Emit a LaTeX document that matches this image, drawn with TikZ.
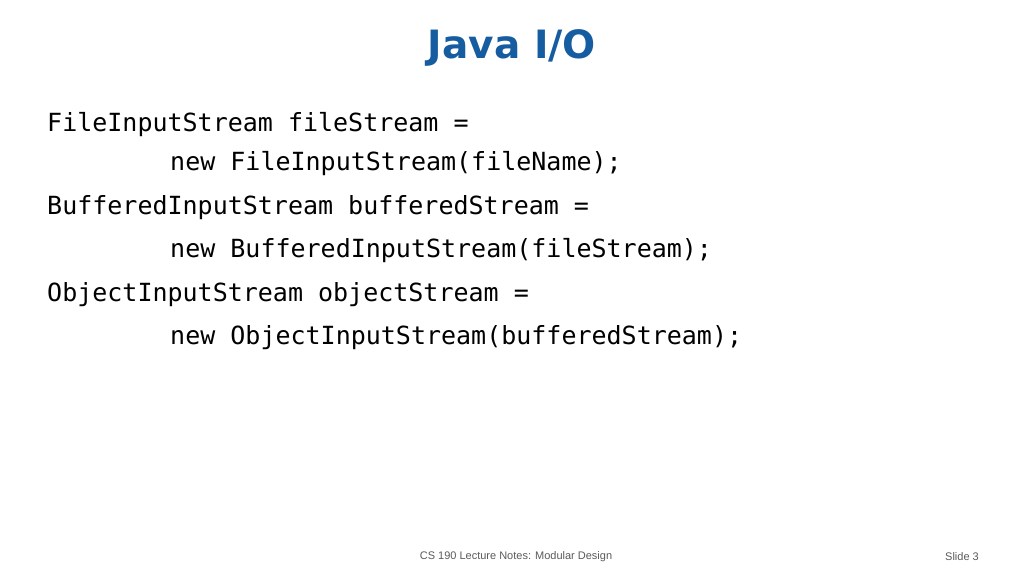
\documentclass[tikz,border=0pt]{standalone}
\usepackage{fontspec}
\setmainfont{Liberation Sans}
\newfontfamily\codefont{DejaVu Sans Mono}
\newfontfamily\titlefont{DejaVu Sans}
\usetikzlibrary{positioning}
\definecolor{titleblue}{RGB}{22,92,160}
\definecolor{footgray}{RGB}{90,90,90}

\begin{document}
\begin{tikzpicture}[x=1pt,y=-1pt,every node/.style={inner sep=0pt},
  codeline/.style={anchor=west,font=\codefont\fontsize{25}{30}\selectfont},
  foot/.style={font=\fontsize{11}{13}\selectfont,text=footgray}]
\useasboundingbox (0,0) rectangle (1024,576);

\node[font=\titlefont\bfseries\fontsize{39}{46}\selectfont,text=titleblue] (title) at (512,48) {Java I/O};

\node[codeline] (l1) at (47,125) {FileInputStream fileStream =};
\node[codeline] (l2) at (170,164) {new FileInputStream(fileName);};
\node[codeline] (l3) at (47,208) {BufferedInputStream bufferedStream =};
\node[codeline] (l4) at (170,251) {new BufferedInputStream(fileStream);};
\node[codeline] (l5) at (47,295) {ObjectInputStream objectStream =};
\node[codeline] (l6) at (170,338) {new ObjectInputStream(bufferedStream);};

\node[foot] (notes) at (516,557) {CS 190 Lecture Notes: Modular Design};
\node[foot,anchor=east] (slide) at (979,557) {Slide 3};
\end{tikzpicture}
\end{document}
